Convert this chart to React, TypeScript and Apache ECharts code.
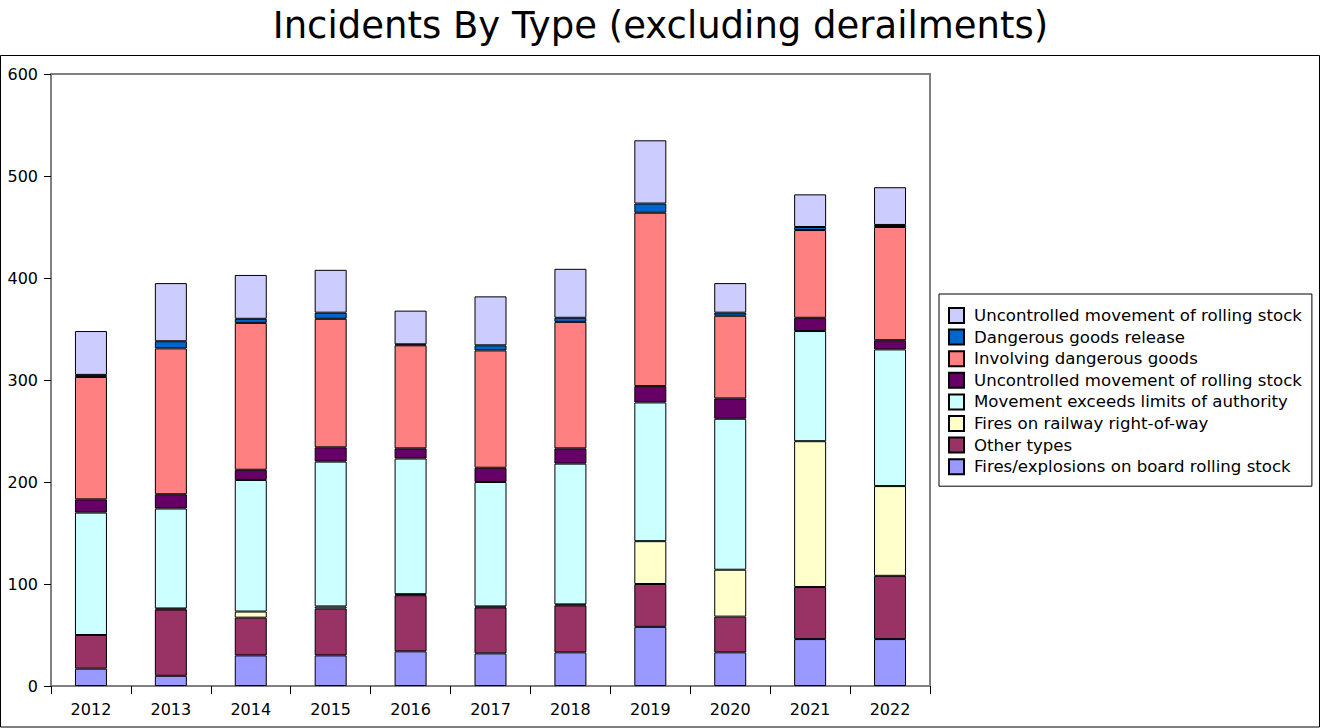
import React, { useEffect, useRef } from "react";
import * as echarts from "echarts";

const years = ["2012", "2013", "2014", "2015", "2016", "2017", "2018", "2019", "2020", "2021", "2022"];

const firesExplosionsOnBoard = [17, 10, 30, 30, 34, 32, 33, 58, 33, 46, 46];
const otherTypes = [33, 65, 37, 46, 55, 45, 46, 42, 35, 51, 62];
const firesOnRightOfWay = [0, 1, 6, 2, 1, 1, 1, 42, 46, 143, 88];
const movementExceedsAuthority = [120, 98, 129, 142, 133, 122, 138, 136, 148, 108, 134];
const uncontrolledMovementA = [13, 14, 10, 14, 10, 14, 15, 16, 20, 13, 9];
const involvingDangerousGoods = [120, 143, 144, 126, 101, 115, 124, 170, 81, 86, 111];
const dangerousGoodsRelease = [2, 7, 4, 6, 1, 5, 4, 9, 3, 3, 2];
const uncontrolledMovementB = [43, 57, 43, 42, 33, 48, 48, 62, 29, 32, 37];

const yTicks = [0, 100, 200, 300, 400, 500, 600];

const seriesDefs = [
  { id: "s1", label: "Fires/explosions on board rolling stock", data: firesExplosionsOnBoard, color: "#9999FF" },
  { id: "s2", label: "Other types", data: otherTypes, color: "#993366" },
  { id: "s3", label: "Fires on railway right-of-way", data: firesOnRightOfWay, color: "#FFFFCC" },
  { id: "s4", label: "Movement exceeds limits of authority", data: movementExceedsAuthority, color: "#CCFFFF" },
  { id: "s5", label: "Uncontrolled movement of rolling stock", data: uncontrolledMovementA, color: "#660066" },
  { id: "s6", label: "Involving dangerous goods", data: involvingDangerousGoods, color: "#FF8080" },
  { id: "s7", label: "Dangerous goods release", data: dangerousGoodsRelease, color: "#0066CC" },
  { id: "s8", label: "Uncontrolled movement of rolling stock", data: uncontrolledMovementB, color: "#CCCCFF" },
];

const FONT = "DejaVu Sans";

export default function App() {
  const ref = useRef<HTMLDivElement>(null);

  useEffect(() => {
    document.body.style.margin = "0";
    const chart = echarts.init(ref.current!, null, { renderer: "svg" });
    const labelMap: Record<string, string> = {};
    seriesDefs.forEach((s) => (labelMap[s.id] = s.label));

    chart.setOption({
      animation: false,
      backgroundColor: "#ffffff",
      title: {
        text: "Incidents By Type (excluding derailments)",
        left: "center",
        top: 2,
        textStyle: { fontFamily: FONT, fontSize: 37, fontWeight: "normal", color: "#000" },
      },
      graphic: [
        {
          type: "rect",
          shape: { x: 0.5, y: 55.5, width: 1319, height: 671.5 },
          style: { fill: "none", stroke: "#000", lineWidth: 1 },
          silent: true,
        },
      ],
      legend: {
        orient: "vertical",
        left: 939,
        top: 294,
        padding: [13, 10, 11, 9],
        borderColor: "#000",
        borderWidth: 1,
        itemWidth: 15,
        itemHeight: 15,
        itemGap: 4.6,
        icon: "rect",
        data: seriesDefs.map((s) => s.id).reverse(),
        formatter: (name: string) => labelMap[name] ?? name,
        textStyle: { fontFamily: FONT, fontSize: 16.6, color: "#000", padding: [0, 0, 0, 5] },
        selectedMode: false,
      },
      grid: {
        left: 51,
        top: 74,
        width: 879,
        height: 612,
        show: true,
        borderColor: "#808080",
        borderWidth: 2,
        containLabel: false,
      },
      xAxis: {
        type: "category",
        data: years,
        boundaryGap: true,
        axisLine: { show: true, lineStyle: { color: "#808080", width: 2 } },
        axisTick: { show: true, length: 8, lineStyle: { color: "#000", width: 1 }, alignWithLabel: false },
        axisLabel: { fontFamily: FONT, fontSize: 16, color: "#000", margin: 15 },
        splitLine: { show: false },
      },
      yAxis: {
        type: "value",
        min: yTicks[0],
        max: yTicks[yTicks.length - 1],
        interval: 100,
        axisLine: { show: true, lineStyle: { color: "#808080", width: 2 } },
        axisTick: { show: true, length: 7, lineStyle: { color: "#000", width: 1 } },
        axisLabel: { fontFamily: FONT, fontSize: 16, color: "#000", margin: 13 },
        splitLine: { show: false },
      },
      series: seriesDefs.map((s) => ({
        id: s.id,
        name: s.id,
        type: "bar",
        stack: "total",
        barWidth: 32,
        data: s.data,
        itemStyle: { color: s.color, borderColor: "#000", borderWidth: 1 },
        emphasis: { disabled: true },
      })),
    });
    return () => chart.dispose();
  }, []);

  return <div ref={ref} style={{ width: 1321, height: 728 }} />;
}
